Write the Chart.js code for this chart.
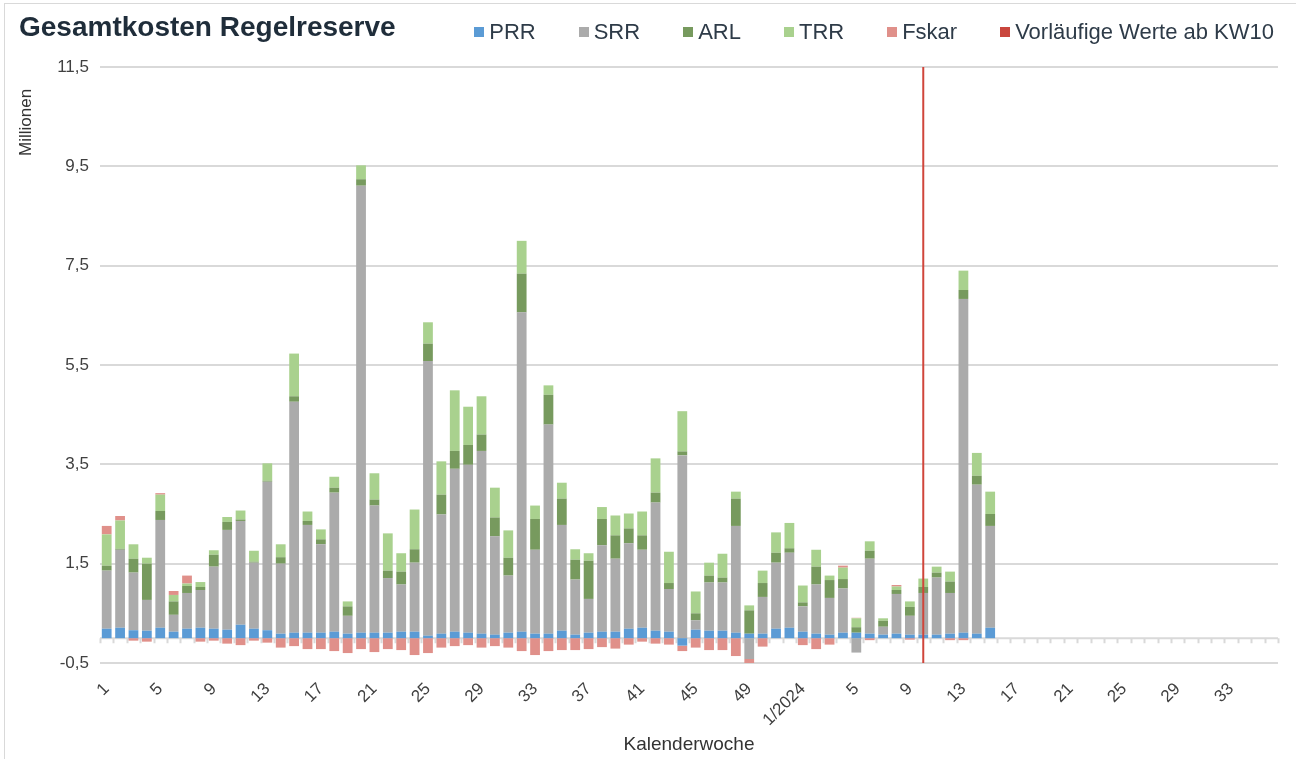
<!DOCTYPE html>
<html>
<head>
<meta charset="utf-8">
<script src="https://cdn.jsdelivr.net/npm/chart.js@4.4.1/dist/chart.umd.min.js"></script>
<style>
  html, body { margin: 0; padding: 0; background: #fff; }
  #wrap { position: relative; width: 1296px; height: 759px; overflow: hidden; font-family: "Liberation Sans", Arial, sans-serif; }
  #frame { position: absolute; left: 4px; top: 3px; width: 1400px; height: 800px; border: 1px solid #d9d9d9; }
  #title { position: absolute; left: 19px; top: 13px; font-size: 28px; line-height: 28px; font-weight: bold; color: #1f2d3a; }
  #legend { position: absolute; right: 22px; top: 21px; display: flex; font-size: 22px; line-height: 22px; color: #2e3b48; }
  .item { display: flex; align-items: center; margin-left: 43px; white-space: nowrap; }
  .box { width: 10px; height: 10px; margin-right: 5px; }
  #ytitle { position: absolute; left: 16px; top: 156px; transform-origin: 0 0; transform: rotate(-90deg); font-size: 17px; line-height: 20px; color: #333; white-space: nowrap; }
  canvas { position: absolute; left: 0; top: 0; }
</style>
</head>
<body>
<div id="wrap">
  <div id="frame"></div>
  <canvas id="canvas" width="1296" height="759"></canvas>
  <div id="title">Gesamtkosten Regelreserve</div>
  <div id="legend"></div>
  <div id="ytitle">Millionen</div>
</div>
<script>
// Kalenderwochen 2023 und 2024
var weeks = ['1','2','3','4','5','6','7','8','9','10','11','12','13','14','15','16','17','18','19','20',
  '21','22','23','24','25','26','27','28','29','30','31','32','33','34','35','36','37','38','39','40',
  '41','42','43','44','45','46','47','48','49','50','51','52',
  '1/2024','2','3','4','5','6','7','8','9','10','11','12','13','14','15','16','17','18','19','20',
  '21','22','23','24','25','26','27','28','29','30','31','32','33','34','35','36'];

// Mio. EUR je Woche
var prr = [0.19,0.21,0.16,0.15,0.21,0.13,0.19,0.21,0.19,0.17,0.27,0.19,0.16,0.09,0.11,0.11,0.11,0.13,0.09,0.11,
  0.11,0.11,0.13,0.13,0.05,0.09,0.13,0.11,0.09,0.07,0.11,0.13,0.09,0.09,0.15,0.07,0.11,0.13,0.13,0.19,
  0.21,0.15,0.13,-0.15,0.17,0.15,0.15,0.11,0.09,0.09,0.19,0.21,
  0.13,0.09,0.07,0.11,0.11,0.09,0.07,0.09,0.07,0.07,0.07,0.09,0.11,0.09,0.21];
var srr = [1.17,1.57,1.16,0.62,2.17,0.34,0.72,0.76,1.25,2.01,2.09,1.33,2.99,1.41,4.65,2.17,1.78,2.80,0.36,9.00,
  2.56,1.10,0.95,1.39,5.53,2.40,3.28,3.38,3.68,1.98,1.15,6.43,1.69,4.21,2.13,1.11,0.68,1.74,1.47,1.72,
  1.57,2.58,0.86,3.68,0.19,0.97,0.97,2.15,-0.42,0.74,1.33,1.51,
  0.51,0.99,0.74,0.89,-0.29,1.51,0.16,0.80,0.38,0.84,1.15,0.82,6.72,3.00,2.05];
var arl = [0.10,0.02,0.28,0.73,0.18,0.27,0.14,0.06,0.24,0.16,0.03,0.02,0.02,0.13,0.11,0.08,0.10,0.10,0.19,0.13,
  0.12,0.15,0.26,0.27,0.35,0.40,0.36,0.40,0.33,0.38,0.36,0.78,0.62,0.60,0.53,0.40,0.77,0.53,0.47,0.30,
  0.29,0.20,0.12,0.08,0.14,0.14,0.10,0.55,0.47,0.28,0.20,0.09,
  0.08,0.36,0.36,0.19,0.11,0.16,0.12,0.08,0.18,0.12,0.10,0.23,0.18,0.18,0.24];
var trr = [0.63,0.57,0.29,0.12,0.33,0.13,0.05,0.10,0.09,0.10,0.18,0.22,0.35,0.26,0.86,0.19,0.20,0.22,0.10,0.28,
  0.53,0.75,0.37,0.80,0.43,0.67,1.22,0.77,0.77,0.60,0.55,0.66,0.27,0.19,0.32,0.21,0.15,0.24,0.40,0.30,
  0.48,0.69,0.63,0.81,0.44,0.26,0.48,0.14,0.10,0.25,0.41,0.51,
  0.34,0.34,0.09,0.23,0.18,0.19,0.05,0.07,0.11,0.17,0.12,0.20,0.39,0.46,0.45];
var fskar = [0.17,0.09,-0.05,-0.07,0.03,0.08,0.16,-0.07,-0.05,-0.11,-0.14,-0.05,-0.09,-0.19,-0.16,-0.22,-0.22,-0.26,-0.30,-0.22,
  -0.28,-0.22,-0.24,-0.34,-0.30,-0.19,-0.16,-0.14,-0.19,-0.16,-0.19,-0.26,-0.34,-0.26,-0.24,-0.24,-0.22,-0.18,-0.21,-0.13,
  -0.07,-0.11,-0.13,-0.11,-0.19,-0.24,-0.24,-0.36,-0.12,-0.17,0,0,
  -0.14,-0.22,-0.13,0.04,0.01,-0.04,0,0.03,-0.03,0,0,-0.04,-0.04,0,0];

var yTicks = [-0.5, 1.5, 3.5, 5.5, 7.5, 9.5, 11.5];
var tickEvery = 4;
var previewWeek = '10';   // vorläufige Werte ab KW10/2024
var previewLabel = 'Vorläufige Werte ab KW10';

Chart.defaults.font.family = '"Liberation Sans", Arial, sans-serif';

var data = {
  labels: weeks,
  datasets: [
    { label: 'PRR', data: prr, backgroundColor: '#5b9bd5' },
    { label: 'SRR', data: srr, backgroundColor: '#ababab' },
    { label: 'ARL', data: arl, backgroundColor: '#779a5e' },
    { label: 'TRR', data: trr, backgroundColor: '#a9d18e' },
    { label: 'Fskar', data: fskar, backgroundColor: '#e0908a' },
    { label: previewLabel, data: [], backgroundColor: '#c9463d' }
  ]
};

// Nulllinie mit Teilstrichen und rote Linie bei KW10/2024
var axisLines = {
  id: 'axisLines',
  beforeDatasetsDraw: function(chart) {
    var ctx = chart.ctx, area = chart.chartArea, x = chart.scales.x, y = chart.scales.y;
    var y0 = y.getPixelForValue(0);
    ctx.save();
    ctx.strokeStyle = '#d9d9d9';
    ctx.lineWidth = 2;
    ctx.beginPath();
    ctx.moveTo(area.left, y0);
    ctx.lineTo(area.right, y0);
    for (var i = 0; i <= weeks.length; i++) {
      var px = Math.round(x.getPixelForValue(i - 0.5)) + 0.5;
      ctx.moveTo(px, y0);
      ctx.lineTo(px, y0 + 5);
    }
    ctx.stroke();
    ctx.restore();
  },
  afterDatasetsDraw: function(chart) {
    var ctx = chart.ctx, area = chart.chartArea, x = chart.scales.x;
    var px = x.getPixelForValue(weeks.lastIndexOf(previewWeek));
    ctx.save();
    ctx.strokeStyle = '#d0453b';
    ctx.lineWidth = 2;
    ctx.beginPath();
    ctx.moveTo(px, area.top);
    ctx.lineTo(px, area.bottom);
    ctx.stroke();
    ctx.restore();
  }
};

var ctx = document.getElementById('canvas');
var chart = new Chart(ctx, {
  type: 'bar',
  data: data,
  plugins: [axisLines],
  options: {
    responsive: false,
    animation: false,
    layout: { padding: { left: 0, right: 18, top: 67, bottom: 0 } },
    datasets: { bar: { categoryPercentage: 1.0, barPercentage: 0.73 } },
    plugins: { legend: { display: false }, tooltip: { enabled: false } },
    scales: {
      x: {
        stacked: true,
        grid: { display: false },
        border: { display: false },
        afterFit: function(s) { s.height = 96; },
        ticks: {
          autoSkip: false, minRotation: 45, maxRotation: 45, padding: 8,
          color: '#404040', font: { size: 17 },
          callback: function(v, i) { return i % tickEvery === 0 ? weeks[i] : ''; }
        },
        title: { display: true, text: 'Kalenderwoche', color: '#333', font: { size: 19 }, padding: { top: 0, bottom: 3 } }
      },
      y: {
        stacked: true,
        min: -0.5, max: 11.5,
        afterFit: function(s) { s.width = 100; },
        afterBuildTicks: function(s) { s.ticks = yTicks.map(function(v) { return { value: v }; }); },
        grid: { color: '#d9d9d9', lineWidth: 2, drawTicks: false },
        border: { display: false },
        ticks: {
          padding: 11, color: '#404040', font: { size: 17 },
          callback: function(v) { return v.toFixed(1).replace('.', ','); }
        }
      }
    }
  }
});

// Legende aus den Datenreihen
var legend = document.getElementById('legend');
data.datasets.forEach(function(ds) {
  var item = document.createElement('div');
  item.className = 'item';
  var box = document.createElement('span');
  box.className = 'box';
  box.style.background = ds.backgroundColor;
  item.appendChild(box);
  item.appendChild(document.createTextNode(ds.label));
  legend.appendChild(item);
});
</script>
</body>
</html>
